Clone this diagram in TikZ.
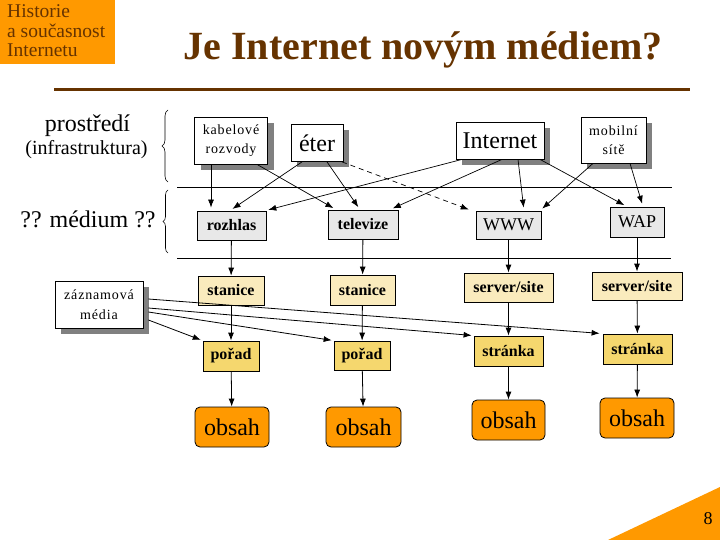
\documentclass[tikz,border=0pt]{standalone}
\usepackage{fontspec}
\setmainfont{Liberation Serif}
\newfontfamily\widefont[LetterSpace=6]{Liberation Serif}
\usetikzlibrary{arrows.meta,shadows,decorations.pathreplacing}

\definecolor{slideorange}{HTML}{FF9900}
\definecolor{slidebrown}{HTML}{663300}
\definecolor{mediumgray}{HTML}{E8E8E8}
\definecolor{paleyellow}{HTML}{FAEBBD}
\definecolor{golden}{HTML}{F5D76E}
\definecolor{shadowgray}{HTML}{808080}

\tikzset{
  box/.style={draw, line width=0.8pt, inner sep=0pt},
  infra/.style={box, fill=white, drop shadow={shadow xshift=6pt, shadow yshift=-6pt, fill=shadowgray, opacity=1}},
  medium/.style={box, fill=mediumgray},
  level/.style={box, fill=paleyellow, font=\bfseries\fontsize{16}{18}\selectfont},
  piece/.style={box, fill=golden, font=\bfseries\fontsize{16}{18}\selectfont},
  content/.style={box, fill=slideorange, rounded corners=5pt, font=\fontsize{24}{28}\selectfont},
  link/.style={->, line width=0.8pt},
  feed/.style={->, line width=0.7pt, shorten >=3pt},
  >={Latex[length=8pt,width=6pt]}
}

\begin{document}
\begin{tikzpicture}[x=1pt,y=-1pt]
    \fill[white] (0,0) rectangle (720,540);
    \useasboundingbox (0,0) rectangle (720,540);

    % header and title
    \fill[slideorange] (0,0) rectangle (115,64);
    \node[anchor=base west, inner sep=0, text=slidebrown, font=\fontsize{19.5}{20}\selectfont] (hdA) at (7,18) {Historie};
    \node[anchor=base west, inner sep=0, text=slidebrown, font=\fontsize{19.5}{20}\selectfont] (hdB) at (7,38) {a současnost};
    \node[anchor=base west, inner sep=0, text=slidebrown, font=\fontsize{19.5}{20}\selectfont] (hdC) at (7,57) {Internetu};
    \node[anchor=base, inner sep=0, text=slidebrown, font=\bfseries\fontsize{40}{44}\selectfont] (title) at (423,60) {Je Internet novým médiem?};
    \draw[slidebrown, line width=3pt] (54,90) -- (690,90);

    % left labels
    \node[anchor=base, inner sep=0, font=\fontsize{24}{28}\selectfont] (prostr) at (87.5,132) {prostředí};
    \node[anchor=base, inner sep=0, font=\fontsize{20}{24}\selectfont] (infra) at (86.5,155) {(infrastruktura)};
    \node[anchor=base, inner sep=0, font=\fontsize{24}{28}\selectfont] (medium) at (88,228) {?? médium ??};
    \draw[decorate, decoration={brace, amplitude=6pt}, line width=0.6pt] (168,182) -- (168,110);
    \draw[decorate, decoration={brace, amplitude=5pt}, line width=0.6pt] (168,253) -- (168,190);
    \draw[line width=0.8pt] (177,187) -- (672,187);
    \draw[line width=0.8pt] (177,258) -- (671,258);

    % infrastructure
    \node[infra, minimum width=73pt, minimum height=47pt, align=center, font=\widefont\fontsize{14}{19}\selectfont] (kabel) at (231,140.5) {kabelové\\rozvody};
    \node[infra, minimum width=52pt, minimum height=37pt, font=\fontsize{24}{28}\selectfont] (eter) at (317,143) {éter};
    \node[infra, minimum width=88pt, minimum height=37pt, font=\fontsize{24}{28}\selectfont] (inet) at (500,140.5) {Internet};
    \node[infra, minimum width=65pt, minimum height=46pt, align=center, font=\widefont\fontsize{14}{19}\selectfont] (mobil) at (613.5,140) {mobilní\\sítě};

    % media
    \node[medium, minimum width=69pt, minimum height=29pt, font=\bfseries\fontsize{16}{18}\selectfont] (rozhlas) at (231.5,225.5) {rozhlas};
    \node[medium, minimum width=70pt, minimum height=29pt, font=\bfseries\fontsize{16}{18}\selectfont] (tv) at (363,224.5) {televize};
    \node[medium, minimum width=65pt, minimum height=28pt, font=\fontsize{18}{20}\selectfont] (www) at (508.5,225) {WWW};
    \node[medium, minimum width=54pt, minimum height=30pt, font=\fontsize{18}{20}\selectfont] (wap) at (637,222) {WAP};

    % stations and servers
    \node[level, minimum width=66pt, minimum height=29pt] (stanA) at (231,290.5) {stanice};
    \node[level, minimum width=65pt, minimum height=30pt] (stanB) at (362.5,290) {stanice};
    \node[level, minimum width=89pt, minimum height=29pt] (servA) at (508.5,287.5) {server/site};
    \node[level, minimum width=90pt, minimum height=28pt] (servB) at (637,286) {server/site};

    % programmes and pages
    \node[piece, minimum width=56pt, minimum height=30pt] (poradA) at (231,356) {pořad};
    \node[piece, minimum width=56pt, minimum height=29pt] (poradB) at (362,355.5) {pořad};
    \node[piece, minimum width=69pt, minimum height=30pt] (strA) at (508.5,351) {stránka};
    \node[piece, minimum width=69pt, minimum height=30pt] (strB) at (637.5,349) {stránka};

    % content
    \node[content, minimum width=74pt, minimum height=40pt] (obsA) at (232,427) {obsah};
    \node[content, minimum width=75pt, minimum height=40pt] (obsB) at (363.5,427) {obsah};
    \node[content, minimum width=73pt, minimum height=40pt] (obsC) at (508.5,420) {obsah};
    \node[content, minimum width=74pt, minimum height=40pt] (obsD) at (637,418) {obsah};

    % recording media
    \node[infra, minimum width=88pt, minimum height=47pt, align=center, font=\widefont\fontsize{14}{20}\selectfont] (zazn) at (99,304.5) {záznamová\\média};

    % infrastructure -> media
    \draw[feed] ([xshift=-20pt]kabel.south) -- ([xshift=-20.5pt]rozhlas.north);
    \draw[feed] ([xshift=26pt]kabel.south) -- ([xshift=-27pt]tv.north);
    \draw[feed] ([xshift=-15pt]eter.south) -- ([xshift=-1.5pt]rozhlas.north);
    \draw[feed] ([xshift=10pt]eter.south) -- ([xshift=-3pt]tv.north);
    \draw[feed, dash pattern=on 5pt off 4pt] ([xshift=25pt]eter.south) -- ([xshift=-4pt]www.north west);
    \draw[feed] ([xshift=-38pt]inet.south) -- ([xshift=-1pt]rozhlas.north east);
    \draw[feed] ([xshift=2pt]inet.south) -- ([xshift=27pt]tv.north);
    \draw[feed] ([xshift=18pt]inet.south) -- ([xshift=15.5pt]www.north);
    \draw[feed] ([xshift=40pt]inet.south) -- ([xshift=-10pt]wap.north);
    \draw[feed] ([xshift=-20.5pt]mobil.south) -- ([xshift=31.5pt]www.north);
    \draw[feed] ([xshift=16.5pt]mobil.south) -- ([xshift=6pt]wap.north);

    % columns
    \foreach \a/\b/\c/\d in {rozhlas/stanA/poradA/obsA, tv/stanB/poradB/obsB, www/servA/strA/obsC, wap/servB/strB/obsD}{
        \draw[link] (\a) -- (\b);
        \draw[link] (\b) -- (\c);
        \draw[link] (\c) -- (\d);
    }

    % recording media -> programmes and pages
    \draw[link, shorten >=2pt] ([shift={(5,15.5)}]zazn.east) -- (poradA.north west);
    \draw[link, shorten >=2pt] ([shift={(5,7.5)}]zazn.east) -- (poradB.north west);
    \draw[link, shorten >=2pt] ([shift={(5,3.5)}]zazn.east) -- (strA.north west);
    \draw[link, shorten >=3pt] ([shift={(5,-5.5)}]zazn.east) -- (strB.north west);

    % page corner
    \fill[slideorange] (608,540) -- (720,487) -- (720,540) -- cycle;
    \node[anchor=base, inner sep=0, font=\fontsize{18}{20}\selectfont] (pagenum) at (708,524) {8};
\end{tikzpicture}
\end{document}
